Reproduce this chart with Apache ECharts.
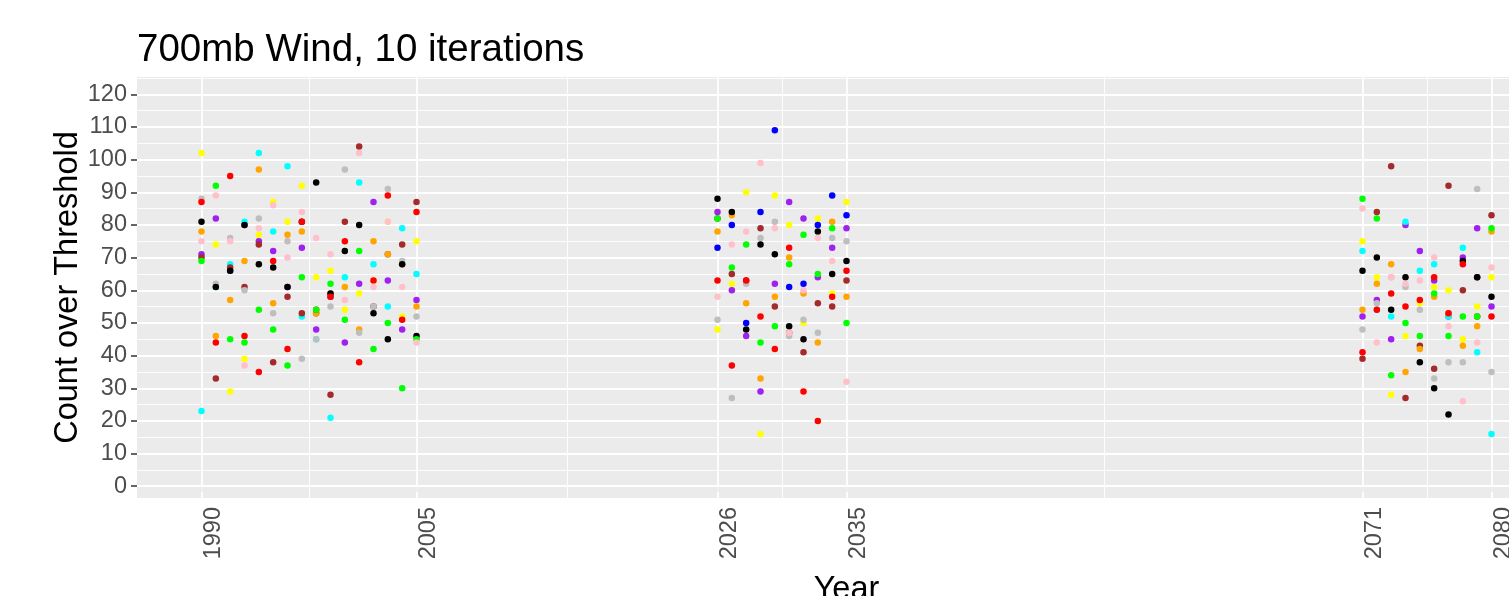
<!DOCTYPE html>
<html><head><meta charset="utf-8">
<script src="https://cdn.jsdelivr.net/npm/echarts@6/dist/echarts.min.js"></script>
<style>html,body{margin:0;padding:0;background:#fff}#c{width:1509px;height:596px}</style>
</head><body><div id="c"></div>
<script>
// Years plotted (three periods)
const years = [1990,1991,1992,1993,1994,1995,1996,1997,1998,1999,2000,2001,2002,2003,2004,2005,
               2026,2027,2028,2029,2030,2031,2032,2033,2034,2035,
               2071,2072,2073,2074,2075,2076,2077,2078,2079,2080];
const xBreaks = [1990, 2005, 2026, 2035, 2071, 2080];
const xMinorBreaks = [1997.5, 2015.5, 2030.5, 2053, 2075.5];
const yBreaks = [0,10,20,30,40,50,60,70,80,90,100,110,120];
const yMinorBreaks = [5,15,25,35,45,55,65,75,85,95,105,115,125];

// One array per iteration colour, values per year (null = no point)
const yellowVals = [102,74,29,39,77,87,81,92,64,66,54,59,63,81,52,75, 48,62,90,16,89,80,50,82,59,87, 75,64,28,46,56,61,60,45,55,64];
const redVals    = [87,44,95,46,35,69,42,81,54,58,75,38,63,89,51,84, 63,37,63,52,42,73,29,20,58,66, 41,54,59,55,57,64,53,68,52,52];
const greenVals  = [69,92,45,44,54,48,37,64,54,62,51,72,42,50,30,45, 82,67,74,44,49,68,77,65,79,50, 88,82,34,50,46,59,46,52,52,79];
const blackVals  = [81,61,66,80,68,67,61,81,93,59,72,80,53,45,68,46, 88,84,48,74,71,49,45,78,65,69, 66,70,54,64,38,30,22,69,64,58];
const cyanVals   = [23,61,68,81,102,78,98,52,45,21,64,93,68,55,79,65, null,null,null,null,null,null,null,null,null,null, 72,54,52,81,66,68,52,73,41,16];
const orangeVals = [78,46,57,69,97,56,77,78,53,59,61,48,75,71,68,55, 78,83,56,33,58,70,59,44,81,58, 54,62,68,35,42,58,53,43,49,78];
const pinkVals   = [75,89,75,37,79,86,70,84,76,71,57,102,61,81,61,44, 58,74,78,99,79,47,60,76,69,32, 85,44,64,62,63,70,49,26,44,67];
const brownVals  = [70,33,67,61,74,38,58,53,53,28,81,104,55,71,74,87, 82,65,63,79,55,47,41,56,55,63, 39,84,98,27,43,36,92,60,64,83];
const greyVals   = [88,62,76,60,82,53,75,39,45,55,97,47,55,91,69,52, 51,27,62,76,81,46,51,47,76,75, 48,56,64,61,54,33,38,38,91,35];
const purpleVals = [71,82,66,80,75,72,61,73,48,58,44,62,87,63,48,57, 84,60,46,29,62,87,82,64,73,79, 52,57,45,80,72,63,52,70,79,55];
const blueVals   = [null,null,null,null,null,null,null,null,null,null,null,null,null,null,null,null, 73,80,50,84,109,61,62,80,89,83, null,null,null,null,null,null,null,null,null,null];

const groups = [
  ['purple', '#A020F0', purpleVals],
  ['yellow', '#FFFF00', yellowVals],
  ['cyan',   '#00FFFF', cyanVals],
  ['brown',  '#A52A2A', brownVals],
  ['orange', '#FFA500', orangeVals],
  ['grey',   '#BEBEBE', greyVals],
  ['black',  '#000000', blackVals],
  ['blue',   '#0000FF', blueVals],
  ['red',    '#FF0000', redVals],
  ['green',  '#00FF00', greenVals],
  ['pink',   '#FFC0CB', pinkVals]
];

const FONT = '"Liberation Sans", Arial, Helvetica, sans-serif';

const gridLines = [];
yMinorBreaks.forEach(v => gridLines.push({yAxis: v, lineStyle: {width: 0.9}}));
xMinorBreaks.forEach(v => gridLines.push({xAxis: v, lineStyle: {width: 0.9}}));
yBreaks.forEach(v => gridLines.push({yAxis: v, lineStyle: {width: 1.8}}));
xBreaks.forEach(v => gridLines.push({xAxis: v, lineStyle: {width: 1.8}}));

const series = [{
  type: 'scatter', data: [], z: 1, silent: true,
  markLine: {
    silent: true, z: 1, animation: false, symbol: ['none', 'none'],
    label: {show: false}, emphasis: {disabled: true},
    lineStyle: {color: '#FFFFFF', type: 'solid', opacity: 1},
    data: gridLines
  }
}];
groups.forEach(([name, color, vals]) => {
  const d = [];
  years.forEach((y, i) => { if (vals[i] !== null) d.push([y, vals[i]]); });
  series.push({
    name, type: 'scatter', data: d, symbol: 'circle', symbolSize: 6.5, z: 5,
    itemStyle: {color, opacity: 1}, emphasis: {disabled: true}
  });
});

const chart = echarts.init(document.getElementById('c'), null, {renderer: 'canvas'});
chart.setOption({
  animation: false,
  backgroundColor: '#FFFFFF',
  title: {
    text: '700mb Wind, 10 iterations', left: 137, top: 31, padding: 0,
    textStyle: {fontSize: 38.5, fontWeight: 'normal', color: '#000000', fontFamily: FONT}
  },
  grid: {
    left: 137, top: 77, width: 1419, height: 421, show: true,
    backgroundColor: '#EBEBEB', borderWidth: 0, containLabel: false,
    outerBoundsMode: 'none'
  },
  xAxis: {
    type: 'value', min: 1985.5, max: 2084.5,
    name: 'Year', nameLocation: 'middle', nameGap: 76, nameMoveOverlap: false,
    nameTextStyle: {fontSize: 32.5, color: '#000000', fontFamily: FONT},
    axisLine: {show: false}, splitLine: {show: false},
    axisTick: {show: true, customValues: xBreaks, length: 6, lineStyle: {color: '#333333', width: 1.5}},
    axisLabel: {customValues: xBreaks, rotate: 90, fontSize: 23.5, color: '#4D4D4D', margin: 9,
                verticalAlign: 'top', fontFamily: FONT, formatter: v => String(v)}
  },
  yAxis: {
    type: 'value', min: -3.6, max: 125.3,
    name: 'Count over Threshold', nameLocation: 'middle', nameGap: 52, nameRotate: 90, nameMoveOverlap: false,
    nameTextStyle: {fontSize: 32.5, color: '#000000', fontFamily: FONT},
    axisLine: {show: false}, splitLine: {show: false},
    axisTick: {show: true, customValues: yBreaks, length: 6, lineStyle: {color: '#333333', width: 1.5}},
    axisLabel: {customValues: yBreaks, fontSize: 23.5, color: '#4D4D4D', margin: 10, fontFamily: FONT,
                formatter: v => String(v)}
  },
  series
});
</script>
</body></html>
